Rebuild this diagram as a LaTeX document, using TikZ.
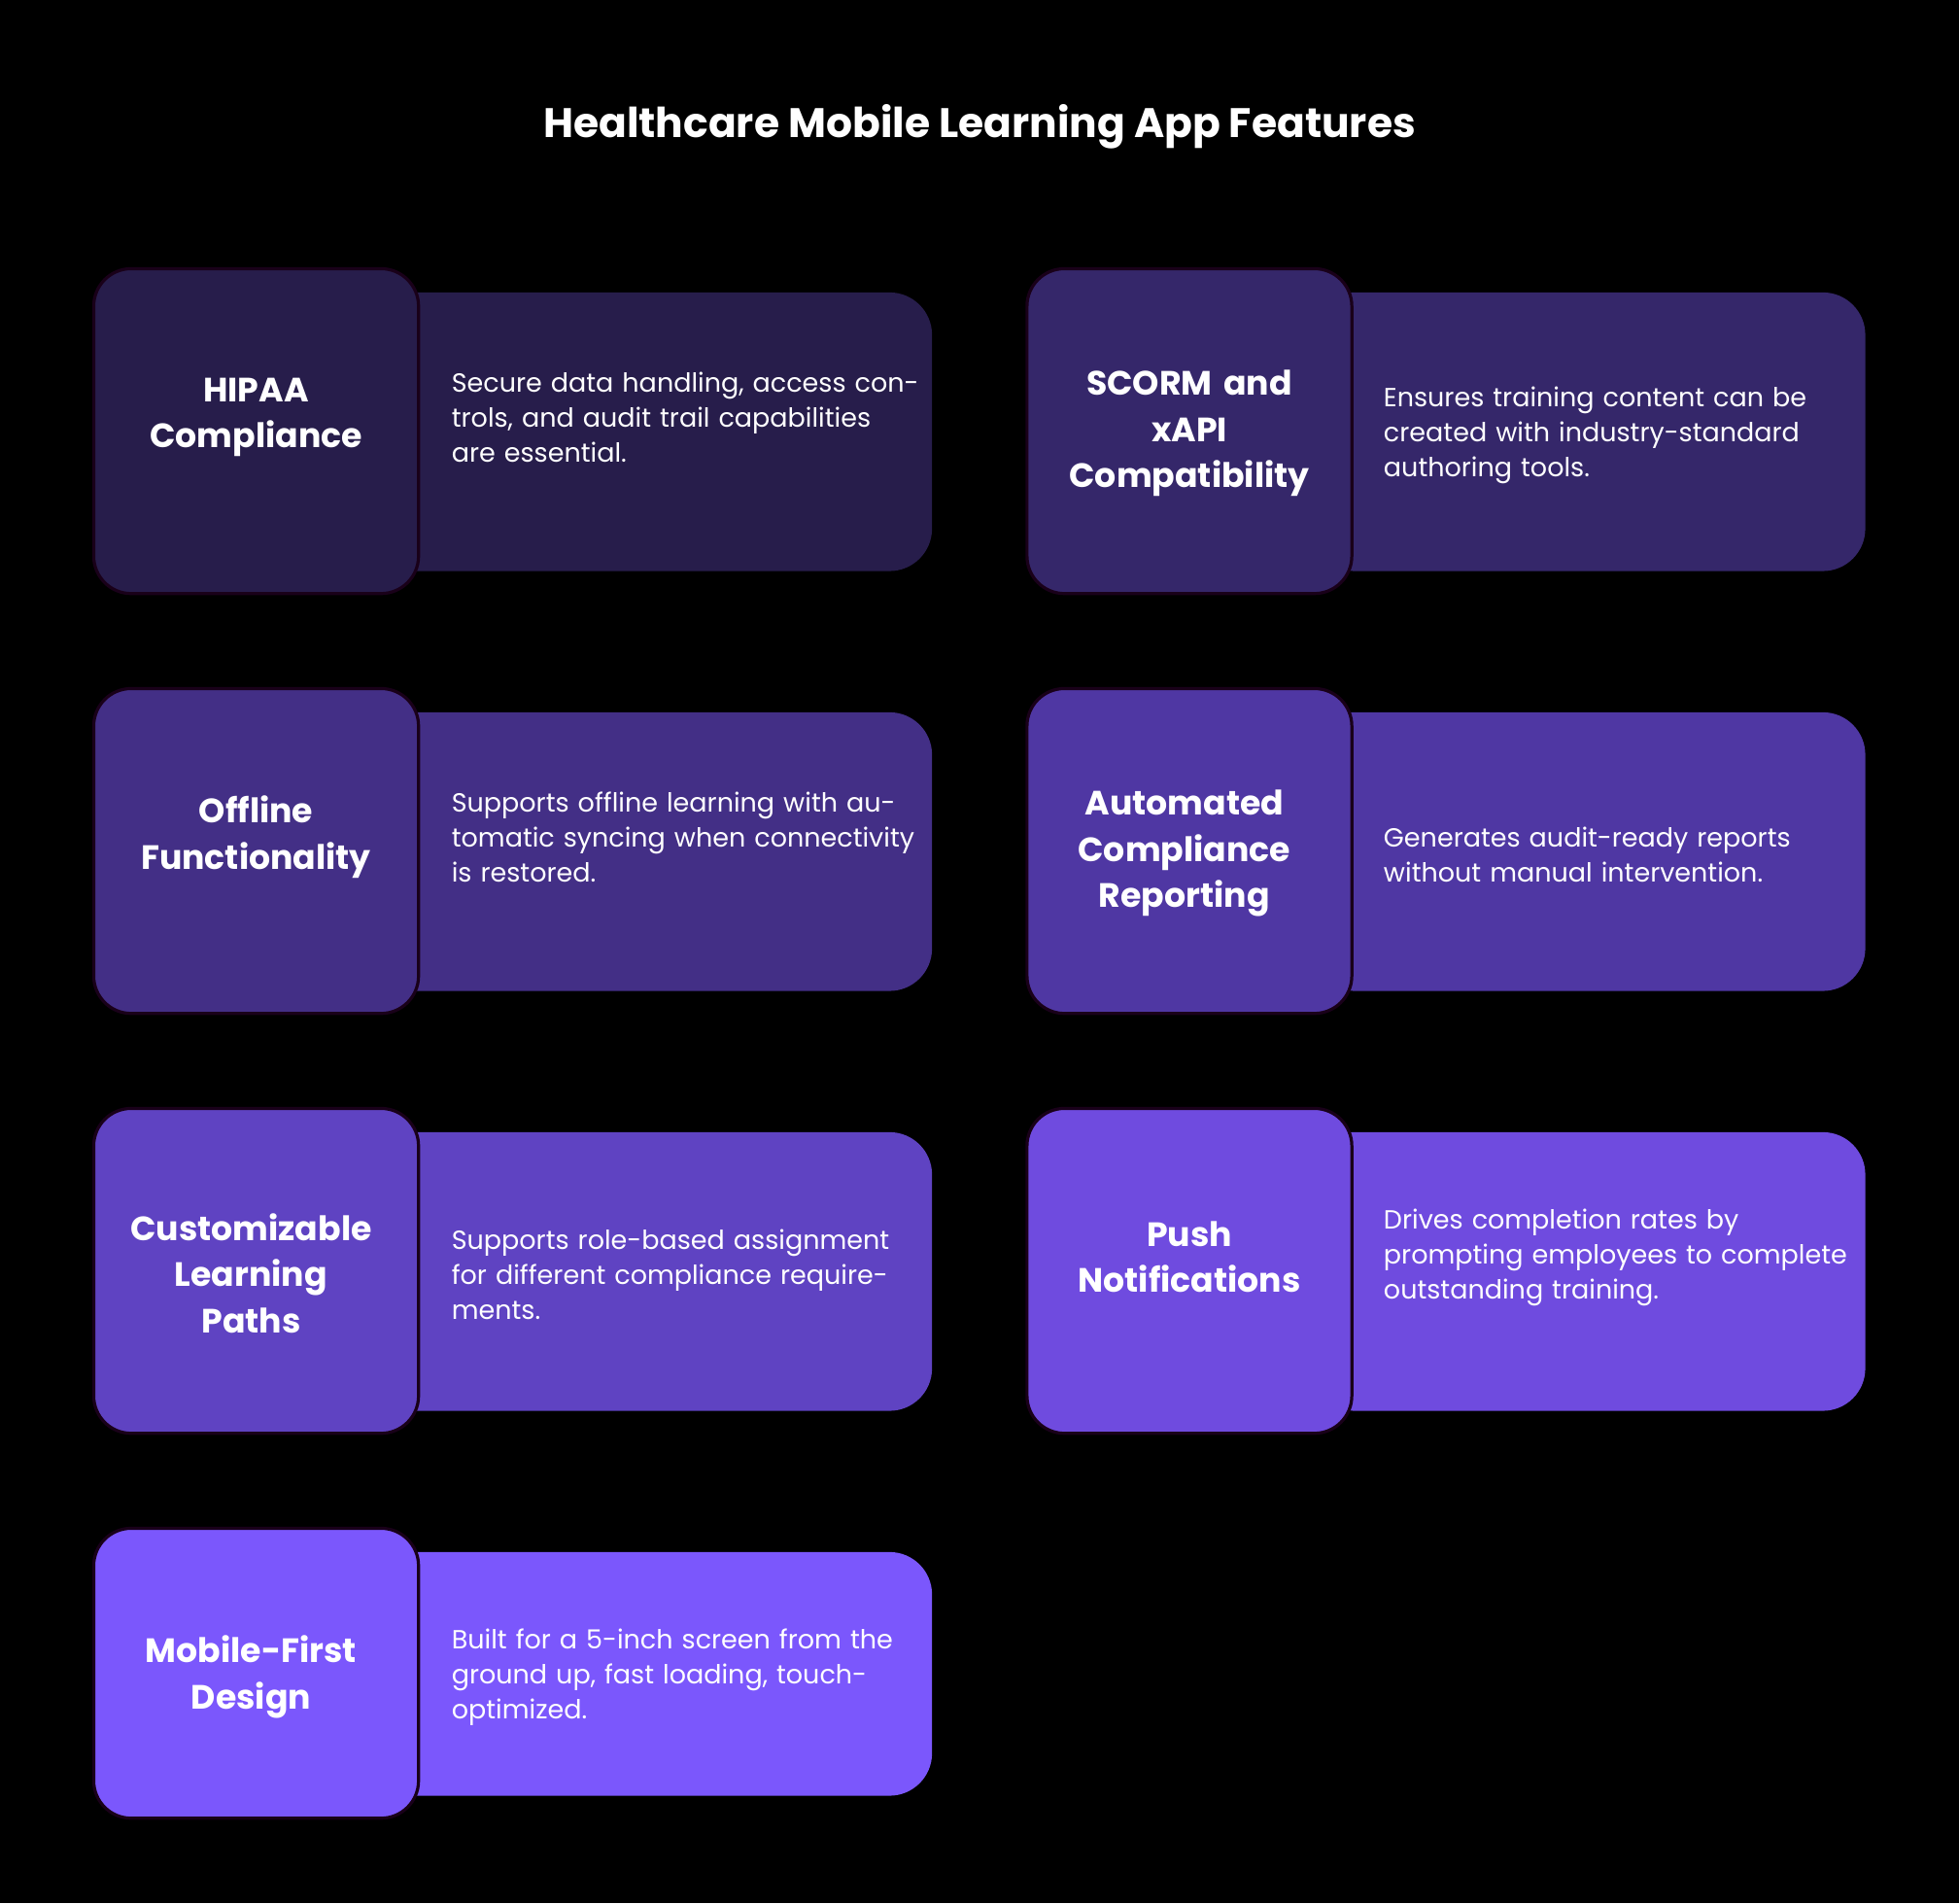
\documentclass[tikz,border=0pt]{standalone}
\usepackage{fontspec}
\setmainfont{Poppins}
\begin{document}
\begin{tikzpicture}[x=1pt,y=-1pt,
  desc/.style={rounded corners=34pt,draw=none},
  head/.style={rounded corners=30pt,draw=black!80!violet,line width=2.5pt},
  htext/.style={text=white,font=\fontsize{27}{37}\selectfont\bfseries,align=center,text width=250pt},
  dtext/.style={text=white,font=\fontsize{21}{28}\selectfont,align=left,text width=375pt,anchor=west}]
\fill[black] (0,0) rectangle (1568,1523);
\useasboundingbox (0,0) rectangle (1568,1523);
\definecolor{c1}{HTML}{271D4B}\definecolor{c2}{HTML}{35276A}
\definecolor{c3}{HTML}{432F86}\definecolor{c4}{HTML}{4F37A3}
\definecolor{c5}{HTML}{5F43C2}\definecolor{c6}{HTML}{6F4BDF}
\definecolor{c7}{HTML}{7B57FC}
\node[text=white,font=\fontsize{33}{40}\selectfont\bfseries] (title) at (784,101) {Healthcare Mobile Learning App Features};
% row 1
\fill[c1,desc] (300,234) rectangle (746,457);
\filldraw[c1,head] (75,215) rectangle (335,475);
\node[htext] (h1) at (205,334) {HIPAA\\Compliance};
\node[dtext] (d1) at (358,334) {Secure data handling, access controls, and audit trail capabilities are essential.};
\fill[c2,desc] (1050,234) rectangle (1493,457);
\filldraw[c2,head] (822,215) rectangle (1082,475);
\node[htext] (h2) at (952,347) {SCORM and\\xAPI\\Compatibility};
\node[dtext] (d2) at (1104,348) {Ensures training content can be created with industry-standard authoring tools.};
% row 2
\fill[c3,desc] (300,570) rectangle (746,793);
\filldraw[c3,head] (75,551) rectangle (335,811);
\node[htext] (h3) at (205,670) {Offline\\Functionality};
\node[dtext] (d3) at (358,670) {Supports offline learning with automatic syncing when connectivity is restored.};
\fill[c4,desc] (1050,570) rectangle (1493,793);
\filldraw[c4,head] (822,551) rectangle (1082,811);
\node[htext] (h4) at (948,683) {Automated\\Compliance\\Reporting};
\node[dtext] (d4) at (1104,684) {Generates audit-ready reports without manual intervention.};
% row 3
\fill[c5,desc] (300,906) rectangle (746,1129);
\filldraw[c5,head] (75,887) rectangle (335,1147);
\node[htext] (h5) at (201,1019) {Customizable\\Learning\\Paths};
\node[dtext] (d5) at (358,1020) {Supports role-based assignment for different compliance requirements.};
\fill[c6,desc] (1050,906) rectangle (1493,1129);
\filldraw[c6,head] (822,887) rectangle (1082,1147);
\node[htext] (h6) at (952,1006) {Push\\Notifications};
\node[dtext] (d6) at (1104,1006) {Drives completion rates by prompting employees to complete outstanding training.};
% row 4
\fill[c7,desc] (300,1242) rectangle (746,1437);
\filldraw[c7,head] (75,1223) rectangle (335,1455);
\node[htext] (h7) at (201,1342) {Mobile-First\\Design};
\node[dtext] (d7) at (358,1342) {Built for a 5-inch screen from the ground up, fast loading, touch-optimized.};
\end{tikzpicture}
\end{document}
